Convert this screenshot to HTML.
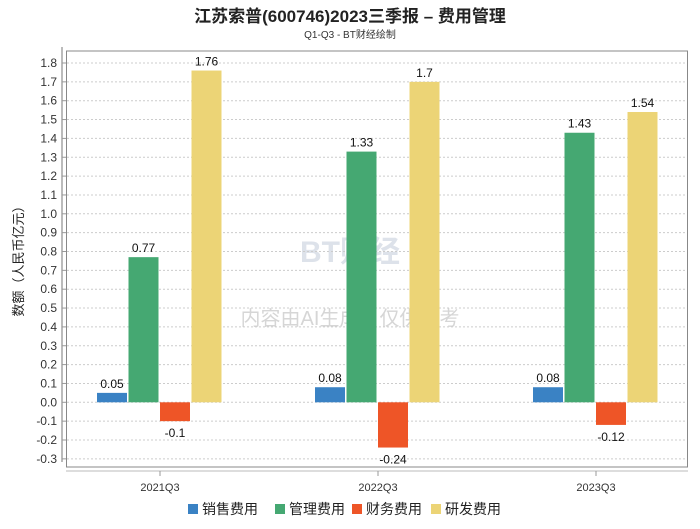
<!DOCTYPE html>
<html><head><meta charset="utf-8"><style>
body{margin:0;background:#fff;}
svg text{font-family:"Liberation Sans","Noto Sans CJK SC",sans-serif;}
</style></head><body>
<svg id="c" width="700" height="524" xmlns="http://www.w3.org/2000/svg">
<text x="350" y="22" text-anchor="middle" font-size="17" font-weight="bold" fill="#222">江苏索普(600746)2023三季报 – 费用管理</text>
<text x="350" y="38" text-anchor="middle" font-size="10" fill="#333">Q1-Q3 - BT财经绘制</text>
<text x="23" y="258" text-anchor="middle" font-size="13" fill="#222" transform="rotate(-90 23 258)">数额（人民币亿元）</text>
<text x="350" y="262" text-anchor="middle" font-size="30" font-weight="bold" fill="#dde2ea">BT财经</text>
<text x="350" y="325" text-anchor="middle" font-size="20" fill="#d6d6d6">内容由AI生成，仅供参考</text>
<g id="grid"></g><g id="bars"></g>
<g id="legend" font-size="14" fill="#222"></g>
</svg>
<script>
const categories=["2021Q3","2022Q3","2023Q3"];
const seriesNames=["销售费用","管理费用","财务费用","研发费用"];
const colors=["#3a82c4","#45a872","#ee5527","#ecd476"];
const sales=[0.05,0.08,0.08];
const admin=[0.77,1.33,1.43];
const finance=[-0.1,-0.24,-0.12];
const rd=[1.76,1.7,1.54];
const yTicks=[-0.3,-0.2,-0.1,0,0.1,0.2,0.3,0.4,0.5,0.6,0.7,0.8,0.9,1.0,1.1,1.2,1.3,1.4,1.5,1.6,1.7,1.8];
const series=[sales,admin,finance,rd];
const NS="http://www.w3.org/2000/svg";
const y=v=>402.3-v*188.5;
const xc=i=>160+218*i;
function mk(t,a,p){const e=document.createElementNS(NS,t);for(const k in a)e.setAttribute(k,a[k]);p.appendChild(e);return e;}
const g=document.getElementById('grid'),b=document.getElementById('bars'),L=document.getElementById('legend');
mk('rect',{x:66.5,y:51,width:621,height:416,fill:'none',stroke:'#888'},g);
mk('line',{x1:62,y1:47,x2:62,y2:462,stroke:'#bbb','stroke-width':2},g);
mk('line',{x1:66,y1:471,x2:688,y2:471,stroke:'#bbb','stroke-width':1},g);
yTicks.forEach(v=>{
 const ln=mk('line',{x1:67,x2:687,y1:y(v),y2:y(v),stroke:'#ccc','stroke-dasharray':'2,2'},g);
 
 
 mk('line',{x1:62,x2:66,y1:y(v),y2:y(v),stroke:'#999'},g);
 const t=mk('text',{x:57,y:y(v)+4,'text-anchor':'end','font-size':12,fill:'#333'},g);
 t.textContent=(Math.round(v*10)/10).toFixed(1);
 
 
});
categories.forEach((c,i)=>{
 mk('line',{x1:xc(i),x2:xc(i),y1:471,y2:476,stroke:'#999'},g);
 const t=mk('text',{x:xc(i),y:491,'text-anchor':'middle','font-size':11,fill:'#333'},g);
 t.textContent=c;
 
 
 series.forEach((s,j)=>{
  const v=s[i],x0=xc(i)-63+j*31.5;
  const r=mk('rect',{x:x0,y:Math.min(y(v),y(0)),width:30,height:Math.abs(y(v)-y(0)),fill:colors[j]},b);
  
  
  const lt=mk('text',{x:x0+15,y:v>=0?y(v)-5:y(v)+16,'text-anchor':'middle','font-size':12,fill:'#111'},b);
  lt.textContent=String(v);
  
  
 });
});
const lx=[188,275,352,431];
seriesNames.forEach((n,j)=>{
 const gg=mk('g',{},L);
 
 
 mk('rect',{x:lx[j],y:504,width:10,height:10,fill:colors[j]},gg);
 const t=mk('text',{x:lx[j]+14,y:514,'font-size':14,fill:'#222'},gg);t.textContent=n;
});
</script>
</body></html>
